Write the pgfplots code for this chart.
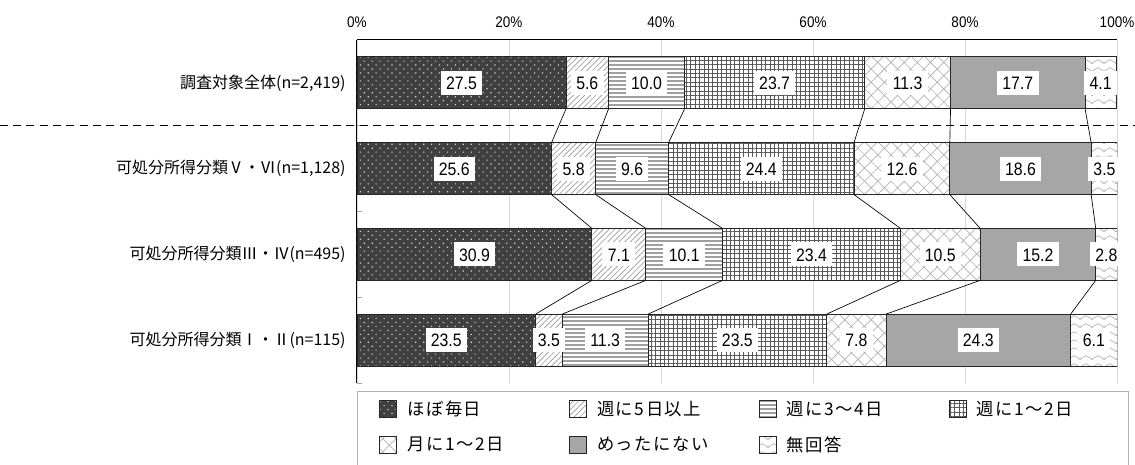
\documentclass[border=0pt]{standalone}
\usepackage{pgfplots}
\pgfplotsset{compat=1.18}
\usetikzlibrary{patterns.meta}
\usepackage{fontspec}
\setmainfont{Noto Sans CJK JP}
\newfontfamily\numfont{Liberation Sans}[FakeStretch=0.88]
\newfontfamily\jpwide{Noto Sans CJK JP}[LetterSpace=9]

% wavy pattern for 無回答
\tikzdeclarepattern{
  name=zigzag,
  type=uncolored,
  bottom left={(-1pt,-1pt)},
  top right={(10pt,7pt)},
  tile size={(9pt,6pt)},
  code={\draw[line width=0.5pt] (-0.5pt,1pt) -- (4.5pt,4pt) -- (9.5pt,1pt);}
}

\pgfplotsset{
  legimg/.style={legend image code/.code={\draw[##1] (0pt,-6.4pt) rectangle (12.75pt,6.4pt);}},
  % second legend row: extra depth so the frame runs past the bottom edge
  legimgB/.style={legend image code/.code={\draw[##1] (0pt,-6.4pt) rectangle (12.75pt,6.4pt); \path (0pt,-16pt);}},
  seg/.style={draw=black!85, line width=0.6pt},
  s1/.style={seg, legimg, fill=black!75, postaction={pattern={Dots[distance=4.2pt, radius=0.6pt, angle=45]}, pattern color=white!85!black}},
  s2/.style={seg, legimg, fill=white, postaction={pattern={Lines[angle=45, distance=3pt, line width=0.5pt]}, pattern color=gray!80}},
  s3/.style={seg, legimg, fill=white, postaction={pattern={Lines[angle=0, distance=3pt, line width=1.2pt]}, pattern color=gray!75}},
  s4/.style={seg, legimg, fill=white, postaction={pattern={Hatch[angle=0, distance=3.3pt, line width=0.7pt]}, pattern color=black!65}},
  s5/.style={seg, legimgB, fill=white, postaction={pattern={Hatch[angle=45, distance=7pt, line width=0.5pt]}, pattern color=gray!60}},
  s6/.style={seg, legimgB, fill={rgb,255:red,166;green,166;blue,166}},
  s7/.style={seg, legimgB, fill=white, postaction={pattern=zigzag, pattern color=gray!60}},
}

\newcommand{\legtext}[1]{\makebox[97.5pt][l]{#1}}

\begin{document}
\begin{tikzpicture}
\begin{axis}[
  name=ax,
  xbar stacked,
  bar width=0.606,
  width=570pt, height=257.25pt, scale only axis,
  xmin=0, xmax=100, ymin=-0.5, ymax=3.5,
  axis x line*=top, axis y line*=left,
  axis line style={black, line width=0.75pt},
  xtick={0,20,...,100},
  xticklabel={\pgfmathprintnumber{\tick}\%},
  /pgf/number format/assume math mode=true,
  xticklabel style={font=\numfont\fontsize{11.5}{11.5}\selectfont, yshift=5.5pt},
  xmajorgrids, major grid style={gray!30, line width=0.6pt},
  ytick={0,1,2,3},
  yticklabels={{可処分所得分類Ⅰ・Ⅱ(n=115)}, {可処分所得分類Ⅲ・Ⅳ(n=495)}, {可処分所得分類Ⅴ・Ⅵ(n=1,128)}, {調査対象全体(n=2,419)}},
  yticklabel style={font=\fontsize{12}{12}\selectfont, xshift=-5pt},
  minor ytick={-0.5,0.5,1.5,2.5},
  major tick length=0pt, minor tick length=4pt,
  tick align=inside,
  minor tick style={gray!70, line width=0.6pt},
  legend columns=4,
  legend cell align=left,
  legend style={at={(0,-0.0233)}, anchor=north west, draw=gray!60, line width=0.75pt,
    inner xsep=16.5pt, inner ysep=6.4pt, row sep=13.5pt,
    nodes={inner sep=0pt},
    font=\jpwide\fontsize{13}{13}\selectfont,
    /tikz/every odd column/.append style={column sep=7.5pt},
    /tikz/every even column/.append style={column sep=24pt}},
]
\addplot[s1] coordinates {(27.5,3) (25.6,2) (30.9,1) (23.5,0)};
\addlegendentry{\legtext{ほぼ毎日}}
\addplot[s2] coordinates {(5.6,3) (5.8,2) (7.1,1) (3.5,0)};
\addlegendentry{\legtext{週に5日以上}}
\addplot[s3] coordinates {(10.0,3) (9.6,2) (10.1,1) (11.3,0)};
\addlegendentry{\legtext{週に3～4日}}
\addplot[s4] coordinates {(23.7,3) (24.4,2) (23.4,1) (23.5,0)};
\addlegendentry{\legtext{週に1～2日}}
\addplot[s5] coordinates {(11.3,3) (12.6,2) (10.5,1) (7.8,0)};
\addlegendentry{\legtext{月に1～2日}}
\addplot[s6] coordinates {(17.7,3) (18.6,2) (15.2,1) (24.3,0)};
\addlegendentry{\legtext{めったにない}}
\addplot[s7] coordinates {(4.1,3) (3.5,2) (2.8,1) (6.1,0)};
\addlegendentry{\legtext{無回答}}
\end{axis}

\begin{axis}[
  at={(ax.south west)}, anchor=south west,
  width=570pt, height=257.25pt, scale only axis,
  xmin=0, xmax=100, ymin=-0.5, ymax=3.5,
  hide axis, clip=false,
]
% connectors between cumulative boundaries
\addplot[black, line width=0.5pt, unbounded coords=jump] table {
x y
27.5 2.697
25.6 2.303
nan nan
33.1 2.697
31.4 2.303
nan nan
43.1 2.697
41.0 2.303
nan nan
66.8 2.697
65.4 2.303
nan nan
78.1 2.697
78.0 2.303
nan nan
95.8 2.697
96.6 2.303
nan nan
25.6 1.697
30.9 1.303
nan nan
31.4 1.697
38.0 1.303
nan nan
41.0 1.697
48.1 1.303
nan nan
65.4 1.697
71.5 1.303
nan nan
78.0 1.697
82.0 1.303
nan nan
96.6 1.697
97.2 1.303
nan nan
30.9 0.697
23.5 0.303
nan nan
38.0 0.697
27.0 0.303
nan nan
48.1 0.697
38.3 0.303
nan nan
71.5 0.697
61.8 0.303
nan nan
82.0 0.697
69.6 0.303
nan nan
97.2 0.697
93.9 0.303
};
% separator
\addplot[black, line width=0.75pt, dash pattern=on 6pt off 4pt] coordinates {(-47,2.5) (102.5,2.5)};
% value labels at segment centres
\addplot[only marks, mark=none, nodes near coords, point meta=explicit symbolic,
  nodes near coords align=center,
  nodes near coords style={anchor=center, fill=white, inner xsep=4pt, inner ysep=4pt,
    text height=10pt, text depth=0pt, font=\numfont\fontsize{13.5}{13.5}\selectfont}]
  table[meta=l] {
x y l
13.75 3 27.5
30.3 3 5.6
38.1 3 10.0
54.95 3 23.7
72.45 3 11.3
86.95 3 17.7
97.85 3 4.1
12.8 2 25.6
28.5 2 5.8
36.2 2 9.6
53.2 2 24.4
71.7 2 12.6
87.3 2 18.6
98.35 2 3.5
15.45 1 30.9
34.45 1 7.1
43.05 1 10.1
59.8 1 23.4
76.75 1 10.5
89.6 1 15.2
98.6 1 2.8
11.75 0 23.5
25.25 0 3.5
32.65 0 11.3
50.05 0 23.5
65.7 0 7.8
81.75 0 24.3
96.95 0 6.1
};
\end{axis}

\pgfresetboundingbox
\path[use as bounding box] ([xshift=-267.75pt, yshift=-61.5pt]ax.south west) rectangle ([xshift=13.5pt, yshift=30pt]ax.north east);
\end{tikzpicture}
\end{document}
